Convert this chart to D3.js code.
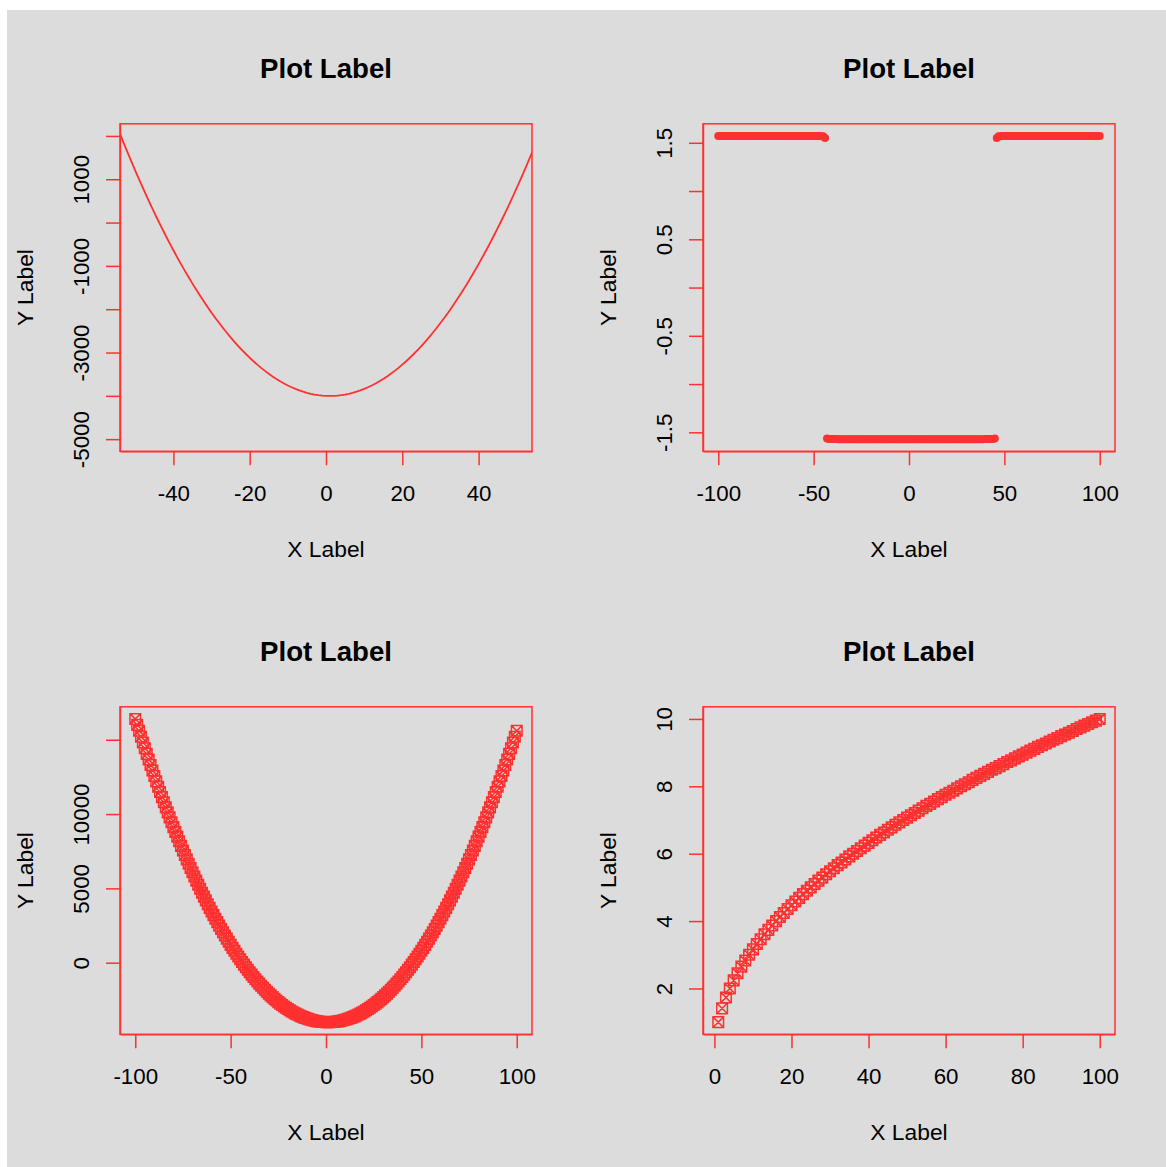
<!DOCTYPE html>
<html>
<head>
<meta charset="utf-8">
<script src="https://cdn.jsdelivr.net/npm/d3@7/dist/d3.min.js"></script>
<style>
  html, body { margin: 0; padding: 0; background: #ffffff; }
  svg { display: block; }
</style>
</head>
<body>
<script>
// ---- data ----------------------------------------------------------------
// shared x grid for the parabola / arctan panels
const xValues = [
  -100, -99, -98, -97, -96, -95, -94, -93, -92, -91,
  -90, -89, -88, -87, -86, -85, -84, -83, -82, -81,
  -80, -79, -78, -77, -76, -75, -74, -73, -72, -71,
  -70, -69, -68, -67, -66, -65, -64, -63, -62, -61,
  -60, -59, -58, -57, -56, -55, -54, -53, -52, -51,
  -50, -49, -48, -47, -46, -45, -44, -43, -42, -41,
  -40, -39, -38, -37, -36, -35, -34, -33, -32, -31,
  -30, -29, -28, -27, -26, -25, -24, -23, -22, -21,
  -20, -19, -18, -17, -16, -15, -14, -13, -12, -11,
  -10, -9, -8, -7, -6, -5, -4, -3, -2, -1,
  0, 1, 2, 3, 4, 5, 6, 7, 8, 9,
  10, 11, 12, 13, 14, 15, 16, 17, 18, 19,
  20, 21, 22, 23, 24, 25, 26, 27, 28, 29,
  30, 31, 32, 33, 34, 35, 36, 37, 38, 39,
  40, 41, 42, 43, 44, 45, 46, 47, 48, 49,
  50, 51, 52, 53, 54, 55, 56, 57, 58, 59,
  60, 61, 62, 63, 64, 65, 66, 67, 68, 69,
  70, 71, 72, 73, 74, 75, 76, 77, 78, 79,
  80, 81, 82, 83, 84, 85, 86, 87, 88, 89,
  90, 91, 92, 93, 94, 95, 96, 97, 98, 99,
  100
];

// parabola values (top-left line, bottom-left markers)
const quadValues = [
  16400, 15998, 15600, 15206, 14816, 14430, 14048, 13670, 13296, 12926,
  12560, 12198, 11840, 11486, 11136, 10790, 10448, 10110, 9776, 9446,
  9120, 8798, 8480, 8166, 7856, 7550, 7248, 6950, 6656, 6366,
  6080, 5798, 5520, 5246, 4976, 4710, 4448, 4190, 3936, 3686,
  3440, 3198, 2960, 2726, 2496, 2270, 2048, 1830, 1616, 1406,
  1200, 998, 800, 606, 416, 230, 48, -130, -304, -474,
  -640, -802, -960, -1114, -1264, -1410, -1552, -1690, -1824, -1954,
  -2080, -2202, -2320, -2434, -2544, -2650, -2752, -2850, -2944, -3034,
  -3120, -3202, -3280, -3354, -3424, -3490, -3552, -3610, -3664, -3714,
  -3760, -3802, -3840, -3874, -3904, -3930, -3952, -3970, -3984, -3994,
  -4000, -4002, -4000, -3994, -3984, -3970, -3952, -3930, -3904, -3874,
  -3840, -3802, -3760, -3714, -3664, -3610, -3552, -3490, -3424, -3354,
  -3280, -3202, -3120, -3034, -2944, -2850, -2752, -2650, -2544, -2434,
  -2320, -2202, -2080, -1954, -1824, -1690, -1552, -1410, -1264, -1114,
  -960, -802, -640, -474, -304, -130, 48, 230, 416, 606,
  800, 998, 1200, 1406, 1616, 1830, 2048, 2270, 2496, 2726,
  2960, 3198, 3440, 3686, 3936, 4190, 4448, 4710, 4976, 5246,
  5520, 5798, 6080, 6366, 6656, 6950, 7248, 7550, 7856, 8166,
  8480, 8798, 9120, 9446, 9776, 10110, 10448, 10790, 11136, 11486,
  11840, 12198, 12560, 12926, 13296, 13670, 14048, 14430, 14816, 15206,
  15600
];

// arctan values (top-right dots)
const arctanValues = [
  1.571, 1.571, 1.571, 1.571, 1.571, 1.571, 1.571, 1.571, 1.571, 1.571,
  1.571, 1.571, 1.571, 1.571, 1.571, 1.571, 1.571, 1.571, 1.571, 1.571,
  1.571, 1.571, 1.571, 1.571, 1.571, 1.571, 1.571, 1.571, 1.571, 1.571,
  1.571, 1.571, 1.571, 1.571, 1.571, 1.571, 1.571, 1.571, 1.571, 1.571,
  1.571, 1.571, 1.571, 1.571, 1.571, 1.571, 1.571, 1.571, 1.571, 1.571,
  1.571, 1.570, 1.570, 1.569, 1.568, 1.567, 1.550, -1.563, -1.568, -1.569,
  -1.569, -1.570, -1.570, -1.571, -1.571, -1.571, -1.571, -1.571, -1.571, -1.571,
  -1.571, -1.571, -1.571, -1.571, -1.571, -1.571, -1.571, -1.571, -1.571, -1.571,
  -1.571, -1.571, -1.571, -1.571, -1.571, -1.571, -1.571, -1.571, -1.571, -1.571,
  -1.571, -1.571, -1.571, -1.571, -1.571, -1.571, -1.571, -1.571, -1.571, -1.571,
  -1.571, -1.571, -1.571, -1.571, -1.571, -1.571, -1.571, -1.571, -1.571, -1.571,
  -1.571, -1.571, -1.571, -1.571, -1.571, -1.571, -1.571, -1.571, -1.571, -1.571,
  -1.571, -1.571, -1.571, -1.571, -1.571, -1.571, -1.571, -1.571, -1.571, -1.571,
  -1.571, -1.571, -1.571, -1.571, -1.571, -1.571, -1.571, -1.571, -1.571, -1.571,
  -1.570, -1.570, -1.569, -1.569, -1.568, -1.563, 1.550, 1.567, 1.568, 1.569,
  1.570, 1.570, 1.571, 1.571, 1.571, 1.571, 1.571, 1.571, 1.571, 1.571,
  1.571, 1.571, 1.571, 1.571, 1.571, 1.571, 1.571, 1.571, 1.571, 1.571,
  1.571, 1.571, 1.571, 1.571, 1.571, 1.571, 1.571, 1.571, 1.571, 1.571,
  1.571, 1.571, 1.571, 1.571, 1.571, 1.571, 1.571, 1.571, 1.571, 1.571,
  1.571, 1.571, 1.571, 1.571, 1.571, 1.571, 1.571, 1.571, 1.571, 1.571,
  1.571
];

// square-root panel (bottom-right markers)
const rootX = [
  1, 2, 3, 4, 5, 6, 7, 8, 9, 10,
  11, 12, 13, 14, 15, 16, 17, 18, 19, 20,
  21, 22, 23, 24, 25, 26, 27, 28, 29, 30,
  31, 32, 33, 34, 35, 36, 37, 38, 39, 40,
  41, 42, 43, 44, 45, 46, 47, 48, 49, 50,
  51, 52, 53, 54, 55, 56, 57, 58, 59, 60,
  61, 62, 63, 64, 65, 66, 67, 68, 69, 70,
  71, 72, 73, 74, 75, 76, 77, 78, 79, 80,
  81, 82, 83, 84, 85, 86, 87, 88, 89, 90,
  91, 92, 93, 94, 95, 96, 97, 98, 99, 100
];
const rootValues = [
  1.00, 1.41, 1.73, 2.00, 2.24, 2.45, 2.65, 2.83, 3.00, 3.16,
  3.32, 3.46, 3.61, 3.74, 3.87, 4.00, 4.12, 4.24, 4.36, 4.47,
  4.58, 4.69, 4.80, 4.90, 5.00, 5.10, 5.20, 5.29, 5.39, 5.48,
  5.57, 5.66, 5.74, 5.83, 5.92, 6.00, 6.08, 6.16, 6.24, 6.32,
  6.40, 6.48, 6.56, 6.63, 6.71, 6.78, 6.86, 6.93, 7.00, 7.07,
  7.14, 7.21, 7.28, 7.35, 7.42, 7.48, 7.55, 7.62, 7.68, 7.75,
  7.81, 7.87, 7.94, 8.00, 8.06, 8.12, 8.19, 8.25, 8.31, 8.37,
  8.43, 8.49, 8.54, 8.60, 8.66, 8.72, 8.77, 8.83, 8.89, 8.94,
  9.00, 9.06, 9.11, 9.17, 9.22, 9.27, 9.33, 9.38, 9.43, 9.49,
  9.54, 9.59, 9.64, 9.70, 9.75, 9.80, 9.85, 9.90, 9.95, 10.00
];

// axis limits for the top-left panel
const lineXLim = [-50, 50];
const lineYLim = [-5000, 2000];

// tick positions and their printed labels ("" = tick without label)
const ticks1X = [-40, -20, 0, 20, 40];
const labels1X = ["-40", "-20", "0", "20", "40"];
const ticks1Y = [-5000, -4000, -3000, -2000, -1000, 0, 1000, 2000];
const labels1Y = ["-5000", "", "-3000", "", "-1000", "", "1000", ""];

const ticks2X = [-100, -50, 0, 50, 100];
const labels2X = ["-100", "-50", "0", "50", "100"];
const ticks2Y = [-1.5, -1, -0.5, 0, 0.5, 1, 1.5];
const labels2Y = ["-1.5", "", "-0.5", "", "0.5", "", "1.5"];

const ticks3X = [-100, -50, 0, 50, 100];
const labels3X = ["-100", "-50", "0", "50", "100"];
const ticks3Y = [0, 5000, 10000, 15000];
const labels3Y = ["0", "5000", "10000", ""];

const ticks4X = [0, 20, 40, 60, 80, 100];
const labels4X = ["0", "20", "40", "60", "80", "100"];
const ticks4Y = [2, 4, 6, 8, 10];
const labels4Y = ["2", "4", "6", "8", "10"];

const titleText = "Plot Label";
const xAxisTitle = "X Label";
const yAxisTitle = "Y Label";

// ---- drawing ----------------------------------------------------------------
const W = 1166, H = 1167;
const RED = "#ff3030";
const FONT = "'Liberation Sans', Arial, Helvetica, sans-serif";

const svg = d3.select("body").append("svg")
  .attr("width", W).attr("height", H)
  .attr("font-family", FONT);

svg.append("rect").attr("x", 0).attr("y", 0).attr("width", W).attr("height", H).attr("fill", "#ffffff");
svg.append("rect").attr("x", 7).attr("y", 10).attr("width", W - 7).attr("height", H - 10).attr("fill", "#dcdcdc");

// extend a range by 4% on each side
function padded(ext) {
  const r = ext[1] - ext[0];
  return [ext[0] - 0.04 * r, ext[1] + 0.04 * r];
}

const PANEL_STEP = 583;
const BOX = { left: 120, top: 123.8, width: 412, height: 327.5 };

function makePanel(col, row, xDom, yDom, xTicks, xLabels, yTicks, yLabels, id) {
  const left = BOX.left + col * PANEL_STEP;
  const top = BOX.top + row * PANEL_STEP;
  const w = BOX.width, h = BOX.height;
  const x = d3.scaleLinear().domain(xDom).range([left, left + w]);
  const y = d3.scaleLinear().domain(yDom).range([top + h, top]);
  const g = svg.append("g");

  svg.append("clipPath").attr("id", id)
    .append("rect").attr("x", left).attr("y", top).attr("width", w).attr("height", h);

  const marks = g.append("g");
  const frame = g.append("g");

  // title
  frame.append("text")
    .attr("x", left + w / 2).attr("y", top - 46.1)
    .attr("text-anchor", "middle")
    .attr("font-weight", "bold").attr("font-size", 27.6)
    .attr("fill", "#000").text(titleText);

  // bottom axis
  const xa = frame.append("g")
    .attr("transform", `translate(0,${top + h})`)
    .call(d3.axisBottom(x).tickValues(xTicks).tickSize(14).tickSizeOuter(0)
      .tickFormat((d, i) => xLabels[i]));
  xa.attr("font-family", FONT).attr("font-size", 22.3).attr("color", RED);
  xa.selectAll("line").attr("stroke-width", 1.5);
  xa.select(".domain").attr("stroke-width", 1.5);
  xa.selectAll("text").attr("y", 50).attr("dy", null).attr("fill", "#000");

  // left axis, labels parallel to the axis
  const ya = frame.append("g")
    .attr("transform", `translate(${left},0)`)
    .call(d3.axisLeft(y).tickValues(yTicks).tickSize(14).tickSizeOuter(0)
      .tickFormat((d, i) => yLabels[i]));
  ya.attr("font-family", FONT).attr("font-size", 22.3).attr("color", RED);
  ya.selectAll("line").attr("stroke-width", 1.5);
  ya.select(".domain").attr("stroke-width", 1.5);
  ya.selectAll("text")
    .attr("x", null).attr("dy", null)
    .attr("text-anchor", "middle")
    .attr("transform", "translate(-31.2,0) rotate(-90)")
    .attr("fill", "#000");

  // plot frame
  frame.append("rect")
    .attr("x", left).attr("y", top).attr("width", w).attr("height", h)
    .attr("fill", "none").attr("stroke", RED).attr("stroke-width", 1.5);

  // axis titles
  frame.append("text")
    .attr("x", left + w / 2).attr("y", top + h + 105.5)
    .attr("text-anchor", "middle").attr("font-size", 22.8).attr("fill", "#000")
    .text(xAxisTitle);
  frame.append("text")
    .attr("transform", `translate(${left - 87.4},${top + h / 2}) rotate(-90)`)
    .attr("text-anchor", "middle").attr("font-size", 22.8).attr("fill", "#000")
    .text(yAxisTitle);

  return { marks, x, y, clip: `url(#${id})` };
}

// boxed-cross marker (square with both diagonals)
function boxCross(s) {
  return `M${-s},${-s}H${s}V${s}H${-s}Z M${-s},${-s}L${s},${s} M${s},${-s}L${-s},${s}`;
}

// top-left: parabola as a line, clipped to the frame
{
  const p = makePanel(0, 0, padded(lineXLim), padded(lineYLim),
    ticks1X, labels1X, ticks1Y, labels1Y, "clip1");
  const pts = xValues.map((v, i) => [v, quadValues[i]]);
  p.marks.append("path")
    .datum(pts)
    .attr("clip-path", p.clip)
    .attr("fill", "none").attr("stroke", RED).attr("stroke-width", 1.8)
    .attr("stroke-linejoin", "round")
    .attr("d", d3.line().x(d => p.x(d[0])).y(d => p.y(d[1])));
}

// top-right: arctan as solid dots
{
  const p = makePanel(1, 0, padded(d3.extent(xValues)), padded(d3.extent(arctanValues)),
    ticks2X, labels2X, ticks2Y, labels2Y, "clip2");
  p.marks.selectAll("circle")
    .data(xValues.map((v, i) => [v, arctanValues[i]]))
    .join("circle")
    .attr("cx", d => p.x(d[0])).attr("cy", d => p.y(d[1]))
    .attr("r", 4).attr("fill", RED);
}

// bottom-left: parabola as boxed crosses
{
  const p = makePanel(0, 1, padded(d3.extent(xValues)), padded(d3.extent(quadValues)),
    ticks3X, labels3X, ticks3Y, labels3Y, "clip3");
  p.marks.selectAll("path")
    .data(xValues.map((v, i) => [v, quadValues[i]]))
    .join("path")
    .attr("transform", d => `translate(${p.x(d[0])},${p.y(d[1])})`)
    .attr("d", boxCross(5.3))
    .attr("fill", "none").attr("stroke", RED).attr("stroke-width", 1.5);
}

// bottom-right: square root as boxed crosses
{
  const p = makePanel(1, 1, padded(d3.extent(rootX)), padded(d3.extent(rootValues)),
    ticks4X, labels4X, ticks4Y, labels4Y, "clip4");
  p.marks.selectAll("path")
    .data(rootX.map((v, i) => [v, rootValues[i]]))
    .join("path")
    .attr("transform", d => `translate(${p.x(d[0])},${p.y(d[1])})`)
    .attr("d", boxCross(5.3))
    .attr("fill", "none").attr("stroke", RED).attr("stroke-width", 1.5);
}
</script>
</body>
</html>
